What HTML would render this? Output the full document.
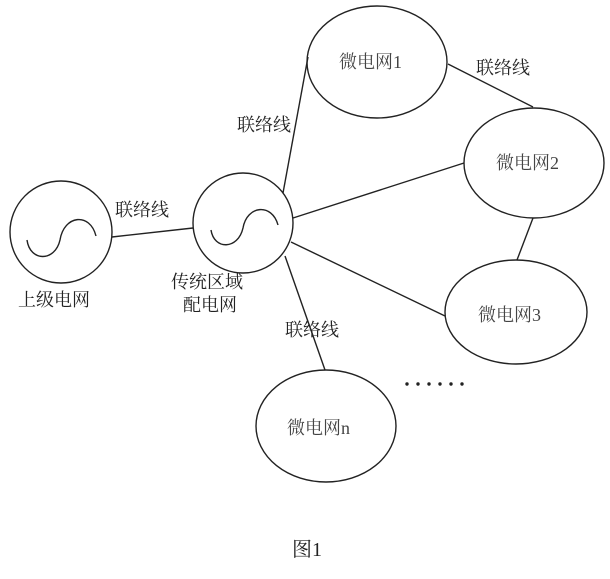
<!DOCTYPE html>
<html><head><meta charset="utf-8"><style>
html,body{margin:0;padding:0;background:#fff}
svg text{font-family:"Liberation Serif","Noto Serif CJK SC","Noto Sans CJK SC",serif}
</style></head><body>
<svg width="610" height="574" viewBox="0 0 610 574" xmlns="http://www.w3.org/2000/svg">
<g fill="none" stroke="#222" stroke-width="1.4">
<circle cx="61" cy="232" r="51"/>
<circle cx="243" cy="223" r="50"/>
<path d="M27 240 C30 262 55 262 60 240 C64 215 90 212 96 236"/>
<path d="M211 230 C214 250 238 250 243 228 C247 205 272 203 278 225"/>
<ellipse cx="377" cy="62" rx="70" ry="56"/>
<ellipse cx="534" cy="163" rx="70" ry="55"/>
<ellipse cx="516" cy="312" rx="71" ry="52"/>
<ellipse cx="326" cy="426" rx="70" ry="56"/>
<line x1="112" y1="237" x2="193" y2="228"/>
<line x1="283" y1="193" x2="308" y2="57"/>
<line x1="448" y1="64" x2="533" y2="107"/>
<line x1="293" y1="218" x2="464" y2="163"/>
<line x1="533" y1="218" x2="517" y2="260"/>
<line x1="291" y1="242" x2="445" y2="316"/>
<line x1="285" y1="256" x2="325" y2="370"/>
</g>
<g font-size="18" fill="#222">
<text x="237" y="131">联络线</text>
<text x="115" y="216">联络线</text>
<text x="476" y="74">联络线</text>
<text x="285" y="336">联络线</text>
<text x="18" y="306">上级电网</text>
<text x="171" y="288">传统区域</text>
<text x="183" y="311">配电网</text>
</g>
<g font-size="18" fill="#444">
<text x="339" y="68">微电网1</text>
<text x="496" y="169">微电网2</text>
<text x="478" y="321">微电网3</text>
<text x="287" y="434">微电网n</text>
</g>
<g fill="#222">
<circle cx="407" cy="384" r="1.7"/><circle cx="418" cy="384" r="1.7"/><circle cx="429" cy="384" r="1.7"/>
<circle cx="440" cy="384" r="1.7"/><circle cx="451" cy="384" r="1.7"/><circle cx="462" cy="384" r="1.7"/>
</g>
<text x="292" y="556" font-size="20" fill="#222">图1</text>
</svg>
</body></html>
